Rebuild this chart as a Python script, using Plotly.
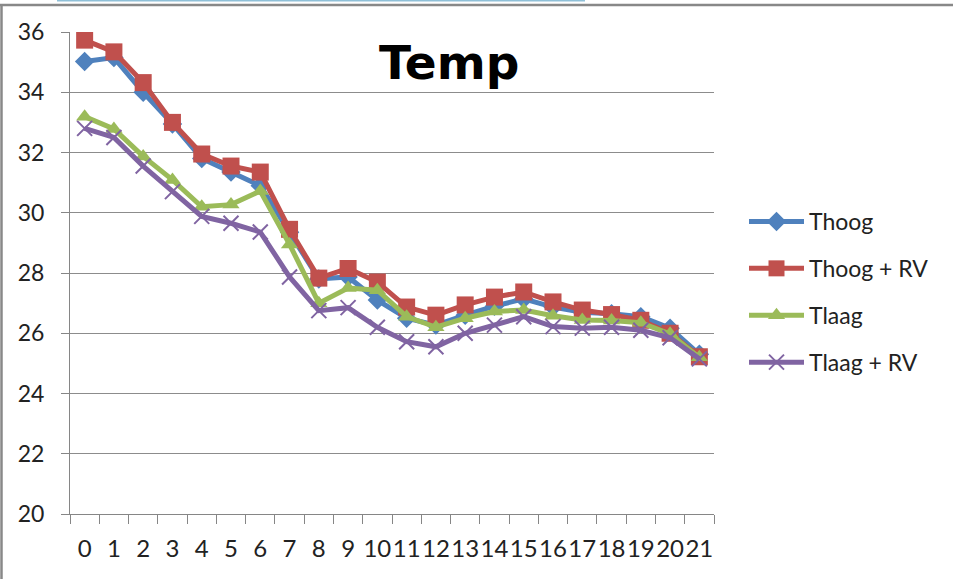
import plotly.graph_objects as go

categories = [str(i) for i in range(22)]

thoog = [35.02, 35.15, 34.0, 32.95, 31.8, 31.35, 30.9, 29.35, 27.8, 27.87, 27.1,
         26.5, 26.27, 26.6, 26.9, 27.14, 26.87, 26.7, 26.65, 26.55, 26.17, 25.3]
thoog_rv = [35.73, 35.34, 34.32, 33.0, 31.95, 31.55, 31.35, 29.45, 27.83, 28.15, 27.7,
            26.87, 26.6, 26.94, 27.2, 27.37, 27.04, 26.77, 26.62, 26.43, 26.0, 25.22]
tlaag = [33.19, 32.78, 31.87, 31.09, 30.2, 30.27, 30.72, 28.95, 27.0, 27.5, 27.43,
         26.55, 26.2, 26.5, 26.72, 26.77, 26.58, 26.44, 26.42, 26.35, 25.98, 25.2]
tlaag_rv = [32.8, 32.5, 31.55, 30.7, 29.88, 29.65, 29.36, 27.87, 26.75, 26.85, 26.2,
            25.72, 25.55, 26.0, 26.27, 26.55, 26.22, 26.17, 26.2, 26.1, 25.85, 25.15]

names = ["Thoog", "Thoog + RV", "Tlaag", "Tlaag + RV"]
colors = ["#4F81BD", "#C0504D", "#9BBB59", "#8064A2"]
symbols = ["diamond", "square", "triangle-up", "x-thin"]
msizes = [15, 17, 15, 15]
series = [thoog, thoog_rv, tlaag, tlaag_rv]

fig = go.Figure()
for name, ys, c, sym, ms in zip(names, series, colors, symbols, msizes):
    marker = dict(symbol=sym, size=ms, color=c)
    if sym == "x-thin":
        marker["line"] = dict(color=c, width=2)
    fig.add_trace(go.Scatter(
        x=categories, y=ys, name=name, mode="lines+markers",
        line=dict(color=c, width=5), marker=marker, legendgroup=name,
    ))

L, R, T, B = 70, 714, 32, 514
W, H = 953, 579

def px(xp):
    return (xp - L) / (R - L)

def py(yp):
    return (B - yp) / (B - T)

fig.update_layout(
    width=W, height=H,
    margin=dict(l=L, r=W - R, t=T, b=H - B, pad=0),
    paper_bgcolor="white", plot_bgcolor="white",
    font=dict(family="Lato", size=23, color="#222222"),
    showlegend=True,
    legend=dict(x=px(744), y=py(200), xanchor="left", yanchor="top",
                font=dict(family="Lato", size=23, color="#222222"),
                itemwidth=55, tracegroupgap=14, bgcolor="rgba(0,0,0,0)"),
    xaxis=dict(type="category", tickson="boundaries", ticks="outside", ticklen=9,
               tickmode="array", tickvals=categories, ticktext=categories,
               range=[-0.5, len(categories) - 0.5], autorange=False,
               tickcolor="#868686", showline=True, linecolor="#868686", linewidth=1,
               showgrid=False, tickangle=0, tickfont=dict(family="Lato", size=24),
               ticklabelstandoff=13),
    yaxis=dict(range=[20, 36], dtick=2, ticks="outside", ticklen=8, tickcolor="#868686",
               showline=True, linecolor="#868686", linewidth=1,
               showgrid=True, gridcolor="#8C8C8C", gridwidth=1, zeroline=False,
               tickfont=dict(family="Lato", size=23), ticklabelstandoff=12),
    annotations=[dict(text="<b>Temp</b>", xref="paper", yref="paper",
                      x=px(449), y=py(62), xanchor="center", yanchor="middle",
                      showarrow=False,
                      font=dict(family="DejaVu Sans", size=47, color="black"))],
    shapes=[
        dict(type="line", xref="paper", yref="paper", x0=px(0), x1=px(953),
             y0=py(5), y1=py(5), line=dict(color="#888888", width=2.5)),
        dict(type="line", xref="paper", yref="paper", x0=px(1.5), x1=px(1.5),
             y0=py(5), y1=py(579), line=dict(color="#888888", width=2.5)),
        dict(type="line", xref="paper", yref="paper", x0=px(57), x1=px(585),
             y0=py(0.8), y1=py(0.8), line=dict(color="#8FC0D8", width=1.6)),
    ],
)

fig.write_html("out.html")
